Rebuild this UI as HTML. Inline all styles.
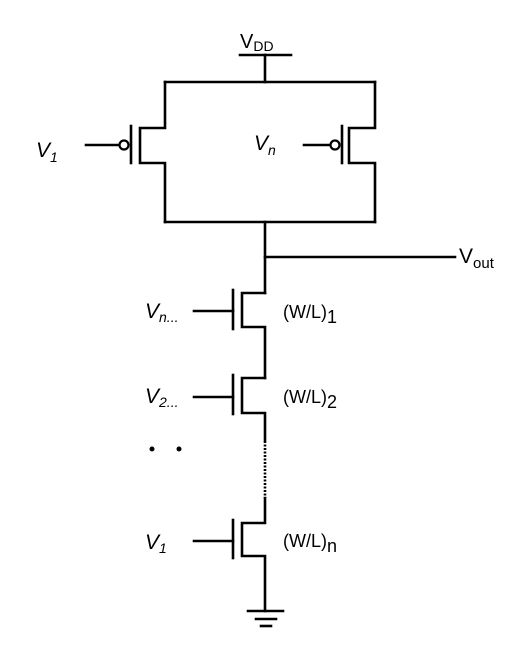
<!DOCTYPE html>
<html><head><meta charset="utf-8"><style>
html,body{margin:0;padding:0;background:#fff}
svg{display:block}
text{font-family:"Liberation Sans",Arial,sans-serif;fill:#000}
.it{font-style:italic}
</style></head><body>
<svg width="517" height="664" viewBox="0 0 517 664">
<g stroke="#000" stroke-width="2.6" fill="none" stroke-linecap="square">
 <g>
  <line x1="240" y1="55" x2="291" y2="55"/>
  <line x1="265" y1="55" x2="265" y2="82"/>
 </g>
 <g>
  <line x1="165" y1="82" x2="375" y2="82"/>
  <polyline points="165,82 165,128 140,128 140,163 165,163 165,222"/>
  <line x1="131" y1="126" x2="131" y2="163"/>
  <circle cx="124" cy="145" r="4.5" stroke-width="2.2"/>
  <line x1="86" y1="145" x2="119" y2="145"/>
  <polyline points="375,82 375,128 349,128 349,163 375,163 375,222"/>
  <line x1="342" y1="126" x2="342" y2="163"/>
  <circle cx="335" cy="145" r="4.5" stroke-width="2.2"/>
  <line x1="304" y1="145" x2="330" y2="145"/>
  <line x1="165" y1="222" x2="375" y2="222"/>
 </g>
 <g>
  <line x1="265" y1="222" x2="265" y2="293"/>
  <line x1="265" y1="257" x2="455" y2="257"/>
 </g>
 <g>
  <polyline points="265,293 242,293 242,327 265,327 265,378"/>
  <line x1="233" y1="290" x2="233" y2="329"/>
  <line x1="194" y1="311" x2="233" y2="311"/>
 </g>
 <g>
  <polyline points="265,378 242,378 242,413 265,413 265,440"/>
  <line x1="233" y1="375" x2="233" y2="414"/>
  <line x1="194" y1="397" x2="233" y2="397"/>
 </g>
 <line x1="265" y1="441" x2="265" y2="498" stroke-dasharray="2 1.5" stroke-linecap="butt"/>
 <g>
  <polyline points="265,498 265,523 242,523 242,556 265,556 265,611"/>
  <line x1="233" y1="520" x2="233" y2="558"/>
  <line x1="194" y1="541" x2="233" y2="541"/>
 </g>
 <g>
  <line x1="248" y1="611" x2="283" y2="611"/>
  <line x1="256" y1="619" x2="276" y2="619"/>
  <line x1="261" y1="626" x2="271" y2="626"/>
 </g>
</g>
<circle cx="152" cy="449" r="2.5" fill="#000"/>
<circle cx="179" cy="449" r="2.5" fill="#000"/>
<text x="240" y="48" font-size="20">V<tspan font-size="14" dy="3">DD</tspan></text>
<text x="36" y="157" font-size="21" class="it">V<tspan font-size="14" dy="5">1</tspan></text>
<text x="254" y="150" font-size="21" class="it">V<tspan font-size="14" dy="5">n</tspan></text>
<text x="459" y="263" font-size="21">V<tspan font-size="15" dy="5">out</tspan></text>
<text x="145" y="318" font-size="21" class="it">V<tspan font-size="14" dy="4">n...</tspan></text>
<text x="145" y="403" font-size="21" class="it">V<tspan font-size="14" dy="4">2...</tspan></text>
<text x="145" y="549" font-size="21" class="it">V<tspan font-size="14" dy="4">1</tspan></text>
<text x="283" y="318" font-size="18">(W/L)<tspan font-size="18" dy="5">1</tspan></text>
<text x="283" y="403" font-size="18">(W/L)<tspan font-size="18" dy="5">2</tspan></text>
<text x="283" y="547" font-size="18">(W/L)<tspan font-size="18" dy="5">n</tspan></text>
</svg>
</body></html>
